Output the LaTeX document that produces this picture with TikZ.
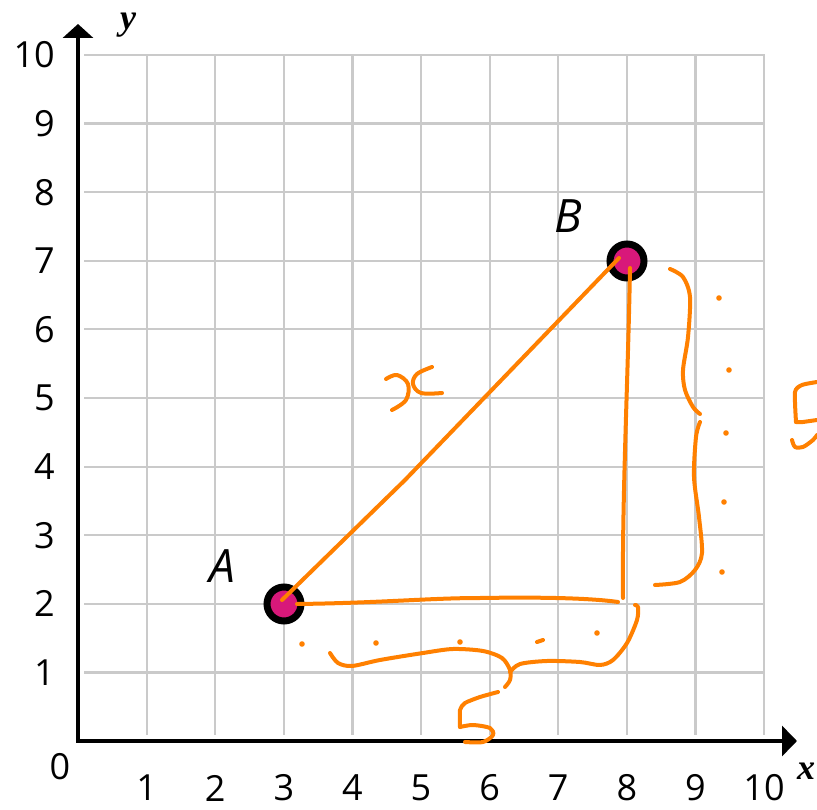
\documentclass[tikz,border=0pt]{standalone}
\usepackage{fontspec}
\setmainfont{Open Sans}
\newfontfamily\axisfont{Liberation Serif}
\usetikzlibrary{arrows.meta}
\definecolor{gridgray}{RGB}{202,202,202}
\definecolor{handorange}{RGB}{255,128,0}
\definecolor{dotmag}{RGB}{216,24,122}
\begin{document}
\begin{tikzpicture}[x=1pt,y=-1pt,
  gridline/.style={gridgray,line width=2.2pt},
  axisline/.style={line width=3.4pt,{Triangle[length=14pt,width=30pt]}-{Triangle[length=15pt,width=30pt]}},
  ticklab/.style={font=\fontsize{36}{40}\selectfont,inner sep=0pt},
  ptlab/.style={font=\fontsize{46}{50}\selectfont\itshape,inner sep=0pt},
  axlab/.style={font=\fontsize{36}{40}\selectfont\axisfont\bfseries\itshape,inner sep=0pt},
  ptdot/.style={circle,draw=black,line width=7pt,fill=dotmag,minimum size=34pt,inner sep=0pt},
  handline/.style={handorange,line width=4pt,line cap=round,line join=round},
  handdot/.style={handorange,fill=handorange},
]
\useasboundingbox (0,0) rectangle (817,810);
\fill[white] (0,0) rectangle (817,810);
% grid
\foreach \i in {1,...,10}{
  \draw[gridline] ({78+68.6*\i},55) -- ({78+68.6*\i},735);
  \draw[gridline] (84,{741-68.6*\i}) -- (765,{741-68.6*\i});
}
% axes
\draw[axisline,line join=miter] (78,24) -- (78,741) -- (797,741);
% tick labels
\foreach \i in {1,...,10}{
  \node[ticklab,anchor=east] (ylab\i) at (55,{741-68.6*\i}) {\i};
  \node[ticklab] (xlab\i) at ({78+68.6*\i},788) {\i};
}
\node[ticklab] (zero) at (60,767) {0};
\node[axlab] (ylabel) at (128,25) {y};
\node[axlab] (xlabel) at (806,771) {x};
% points
\node[ptdot] (A) at (284,604) {};
\node[ptdot] (B) at (627,261) {};
\node[ptlab] (Alab) at (222,566) {A};
\node[ptlab] (Blab) at (568,216) {B};
\coordinate (C) at (623,600);
% hand-drawn triangle
\draw[handline] ([shift={(-2,-4)}]A.center) -- (405,480) -- ([shift={(-8,-3)}]B.center);
\draw[handline] ([shift={(3,7)}]B.center) .. controls (628,380) and (622,500) .. ([shift={(0,-2)}]C);
\draw[handline] ([shift={(13,0)}]A.center) .. controls (380,603) and (430,598) .. (480,598) .. controls (540,597) and (590,598) .. ([shift={(-5,2)}]C);
% x label of hypotenuse
\draw[handline] plot[smooth,tension=0.6] coordinates {(386,379) (397,375) (408,384) (406,400) (392,410)};
\draw[handline] plot[smooth,tension=0.6] coordinates {(432,367) (417,374) (413,384) (421,393) (442,393)};
% bottom brace
\draw[handline] plot[smooth,tension=0.5] coordinates {(330,653) (338,663) (352,666) (380,660) (423,653) (453,649) (483,651) (502,658) (510,670) (510,680) (505,687)};
\draw[handline] plot[smooth,tension=0.5] coordinates {(510,672) (520,664) (547,661) (580,662) (600,665) (613,660) (627,643) (637,620) (638,607) (635,605)};
% bottom 5
\draw[handline] plot[smooth,tension=0.4] coordinates {(498,692) (480,697) (465,703) (460,710) (460,727)};
\draw[handline] plot[smooth,tension=0.5] coordinates {(460,727) (473,725) (490,728) (493,735) (483,742) (465,742)};
% bottom dots
\foreach \p in {(302,644),(376,643),(460,642),(597,633)}{\fill[handdot] \p circle (2.8pt);}
\draw[handline] (537,642) -- (543,640);
% right brace
\draw[handline] plot[smooth,tension=0.5] coordinates {(670,269) (683,277) (690,297) (688,337) (683,370) (685,390) (693,407) (700,414)};
\draw[handline] plot[smooth,tension=0.5] coordinates {(700,422) (696,437) (694,477) (699,517) (702,553) (695,570) (680,582) (655,585)};
% right dots
\foreach \p in {(719,298),(729,370),(726,433),(724,502),(722,572)}{\fill[handdot] \p circle (2.8pt);}
% right 5
\draw[handline] plot[smooth,tension=0.4] coordinates {(817,382) (802,385) (795,392) (796,422)};
\draw[handline] (796,422) -- (803,422) -- (817,420);
\draw[handline] plot[smooth,tension=0.5] coordinates {(792,440) (795,447) (803,447) (813,440) (817,435)};
\end{tikzpicture}
\end{document}
